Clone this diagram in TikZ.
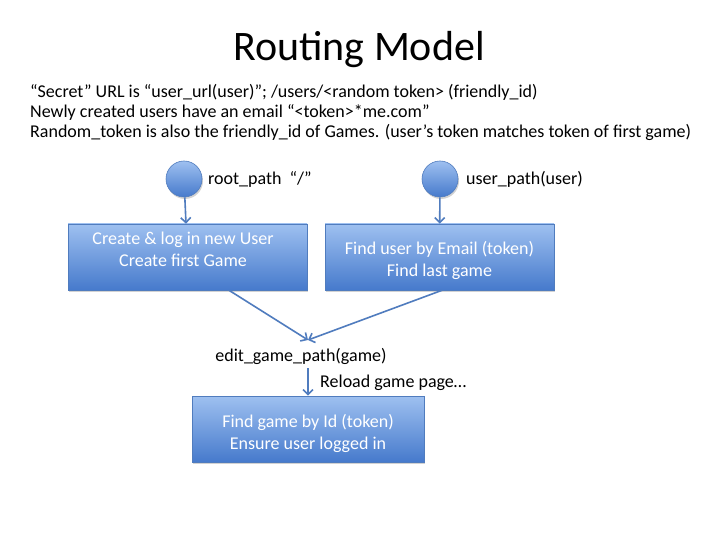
\documentclass[tikz,border=0pt]{standalone}
\usepackage{fontspec}
\setmainfont{Carlito}
\usetikzlibrary{arrows.meta,shadows}
\definecolor{boxtop}{RGB}{158,192,240}
\definecolor{boxbot}{RGB}{70,122,204}
\definecolor{boxline}{RGB}{80,124,190}
\definecolor{arrowc}{RGB}{80,124,190}
\tikzset{
  x=1pt, y=-1pt,
  procbox/.style={draw=boxline, line width=0.6pt, top color=boxtop, bottom color=boxbot,
    inner sep=0pt, minimum height=66pt,
    drop shadow={shadow xshift=1pt, shadow yshift=-2pt, opacity=0.35}},
  boxtext/.style={text=white, font=\fontsize{18}{22}\selectfont, align=center, inner sep=0pt},
  startdot/.style={circle, draw=boxline, line width=0.6pt, top color=boxtop, bottom color=boxbot,
    minimum size=36pt, inner sep=0pt,
    drop shadow={shadow xshift=1pt, shadow yshift=-2pt, opacity=0.35}},
  flow/.style={draw=arrowc, line width=1.6pt, -{Straight Barb[length=5pt,width=10pt]}},
  note/.style={font=\fontsize{18}{22}\selectfont, inner sep=0pt, anchor=west},
  lbl/.style={font=\fontsize{18}{22}\selectfont, inner sep=0pt},
}
\begin{document}
\begin{tikzpicture}
\useasboundingbox (0,0) rectangle (720,540);
\fill[white] (0,0) rectangle (720,540);

% title and notes
\node[font=\fontsize{42}{50}\selectfont, inner sep=0pt] (title) at (359,50) {Routing Model};
\node[note] (n1) at (30,92) {“Secret” URL is “user\_url(user)”; /users/<random token> (friendly\_id)};
\node[note] (n2) at (30,112) {Newly created users have an email “<token>*me.com”};
\node[note] (n3) at (30,132) {Random\_token is also the friendly\_id of Games. (user’s token matches token of first game)};

% entry points
\node[startdot] (root) at (184,179) {};
\node[lbl, anchor=west] (rootl) at (208,179) {root\_path~~“/”};
\node[startdot] (upath) at (440,179) {};
\node[lbl, anchor=west] (upathl) at (466,179) {user\_path(user)};

% handlers
\node[procbox, minimum width=239pt] (create) at (187.5,257) {};
\node[boxtext] (createt) at (183,249) {Create \& log in new User\\Create first Game};
\node[procbox, minimum width=229pt] (find) at (439.5,257) {};
\node[boxtext] (findt) at (439.5,260) {Find user by Email (token)\\Find last game};

\coordinate (merge) at (308,340);
\node[lbl] (edit) at (301,356) {edit\_game\_path(game)};
\node[procbox, minimum width=232pt] (game) at (308,429) {};
\node[boxtext] (gamet) at (308,433) {Find game by Id (token)\\Ensure user logged in};
\node[lbl, anchor=west] (reload) at (320,383) {Reload game page…};

% connectors
\draw[flow] (root) -- (create);
\draw[flow] (upath) -- (find);
\draw[flow] (create.south -| 229,0) -- (merge);
\draw[flow] (find.south -| 442,0) -- (merge);
\draw[flow] (308,368) -- (game);
\end{tikzpicture}
\end{document}
